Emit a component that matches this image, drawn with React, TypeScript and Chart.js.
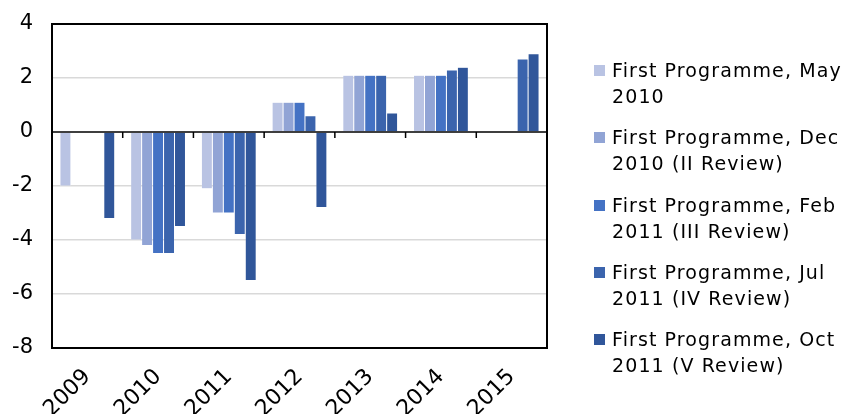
import React, { useEffect, useRef } from "react";
import { Chart, registerables } from "chart.js";

Chart.register(...registerables);

const categories = ["2009", "2010", "2011", "2012", "2013", "2014", "2015"];
const seriesNames = [
  ["First Programme, May", "2010"],
  ["First Programme, Dec", "2010 (II Review)"],
  ["First Programme, Feb", "2011 (III Review)"],
  ["First Programme, Jul", "2011 (IV Review)"],
  ["First Programme, Oct", "2011 (V Review)"],
];
const mayReview = [-2.0, -4.0, -2.1, 1.1, 2.1, 2.1, null];
const decReview = [null, -4.2, -3.0, 1.1, 2.1, 2.1, null];
const febReview = [null, -4.5, -3.0, 1.1, 2.1, 2.1, null];
const julReview = [null, -4.5, -3.8, 0.6, 2.1, 2.3, 2.7];
const octReview = [-3.2, -3.5, -5.5, -2.8, 0.7, 2.4, 2.9];
const yTicks = [-8, -6, -4, -2, 0, 2, 4];

const colors = ["#B9C3E3", "#91A4D5", "#4472C4", "#3B64AD", "#30569A"];
const FONT = "'DejaVu Sans', Verdana, sans-serif";

const framePlugin = {
  id: "frame",
  afterDatasetsDraw(chart: any) {
    const { ctx, chartArea, scales } = chart;
    const y0 = scales.y.getPixelForValue(0);
    ctx.save();
    ctx.strokeStyle = "#000";
    ctx.lineWidth = 1.5;
    ctx.beginPath();
    ctx.moveTo(chartArea.left, y0);
    ctx.lineTo(chartArea.right, y0);
    const n = categories.length;
    for (let i = 0; i <= n; i++) {
      const x = i === 0 ? chartArea.left : i === n ? chartArea.right : (scales.x.getPixelForValue(i - 1) + scales.x.getPixelForValue(i)) / 2;
      ctx.moveTo(x, y0);
      ctx.lineTo(x, y0 + 6);
    }
    ctx.stroke();
    ctx.lineWidth = 2;
    ctx.strokeRect(chartArea.left, chartArea.top, chartArea.right - chartArea.left, chartArea.bottom - chartArea.top);
    ctx.restore();
  },
};

export default function App() {
  const ref = useRef<HTMLCanvasElement>(null);
  useEffect(() => {
    const data = [mayReview, decReview, febReview, julReview, octReview];
    const chart = new Chart(ref.current!, {
      type: "bar",
      data: {
        labels: categories,
        datasets: data.map((d, i) => ({
          label: seriesNames[i].join(" "),
          data: d,
          backgroundColor: colors[i],
          borderColor: "rgba(255,255,255,0.35)",
          borderWidth: 0.5,
          categoryPercentage: 0.775,
          barPercentage: 1,
        })),
      },
      options: {
        animation: false,
        responsive: false,
        maintainAspectRatio: false,
        layout: { padding: { top: 24, right: 303, left: 0, bottom: 0 } },
        plugins: { legend: { display: false }, tooltip: { enabled: false } },
        scales: {
          x: {
            grid: { display: false },
            border: { display: false },
            ticks: {
              color: "#000",
              font: { family: FONT, size: 22 },
              maxRotation: 45,
              minRotation: 45,
              padding: 8,
            },
            afterFit(s: any) {
              s.height = 66;
              s.paddingLeft = 0;
              s.paddingRight = 0;
            },
          },
          y: {
            min: -8,
            max: 4,
            border: { display: false },
            grid: {
              drawTicks: false,
              lineWidth: 1.5,
              color: (c: any) => (c.tick && (c.tick.value === 0 || c.tick.value === 4 || c.tick.value === -8) ? "rgba(0,0,0,0)" : "#D9D9D9"),
            },
            afterBuildTicks(s: any) {
              s.ticks = yTicks.map((v) => ({ value: v }));
            },
            ticks: {
              color: "#000",
              font: { family: FONT, size: 21 },
              padding: 19,
            },
            afterFit(s: any) {
              s.width = 52;
              s.paddingTop = 0;
              s.paddingBottom = 0;
            },
          },
        },
      },
      plugins: [framePlugin],
    });
    return () => chart.destroy();
  }, []);

  return (
    <div style={{ position: "fixed", left: 0, top: 0, width: 850, height: 414, background: "#fff" }}>
      <canvas ref={ref} width={850} height={414} style={{ position: "absolute", left: 0, top: 0 }} />
      <div style={{ position: "absolute", left: 594, top: 57, fontFamily: FONT, fontSize: 19, letterSpacing: "1.1px", color: "#000" }}>
        {seriesNames.map((n, i) => (
          <div key={i} style={{ display: "flex", alignItems: "flex-start", height: 67.3 }}>
            <div style={{ width: 11, height: 11, background: colors[i], marginTop: 8, marginRight: 7, flex: "none" }} />
            <div style={{ lineHeight: "26px", whiteSpace: "nowrap" }}>
              <div>{n[0]}</div>
              <div>{n[1]}</div>
            </div>
          </div>
        ))}
      </div>
    </div>
  );
}
